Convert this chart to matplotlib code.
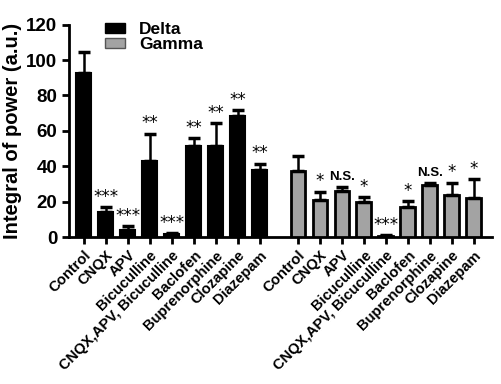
import matplotlib
matplotlib.use("Agg")
import matplotlib.pyplot as plt
import numpy as np
from matplotlib.patches import Patch

plt.rcParams['font.family'] = ['Liberation Sans', 'DejaVu Sans']
plt.rcParams['font.weight'] = 'bold'

categories = ["Control", "CNQX", "APV", "Bicuculline", "CNQX,APV, Bicuculline",
              "Baclofen", "Buprenorphine", "Clozapine", "Diazepam"]
delta_mean = [92.5, 14.3, 3.8, 43.0, 1.5, 51.3, 51.7, 68.3, 38.1]
delta_err = [12.2, 2.7, 2.2, 15.5, 0.5, 4.4, 12.5, 3.4, 3.4]
delta_sig = ["", "***", "***", "**", "***", "**", "**", "**", "**"]
gamma_mean = [37.5, 21.1, 26.0, 19.8, 0.6, 17.0, 29.2, 23.8, 21.9]
gamma_err = [8.2, 4.5, 2.3, 2.8, 0.3, 3.2, 1.6, 7.0, 10.9]
gamma_sig = ["", "*", "N.S.", "*", "***", "*", "N.S.", "*", "*"]

fig = plt.figure(figsize=(5.01, 3.84), dpi=100)
ax = fig.add_axes([69/501, 1 - 237/384, (492 - 69)/501, (237 - 24.7)/384])

xd = np.arange(9)
xg = np.arange(9) + 9.73
w = 0.68
ax.bar(xd, delta_mean, width=w, color='black', edgecolor='black', linewidth=1.5,
       yerr=[np.zeros(9), delta_err], error_kw=dict(ecolor='black', elinewidth=1.8, capsize=4, capthick=2.5), zorder=3)
ax.bar(xg, gamma_mean, width=w, color='#a3a3a3', edgecolor='black', linewidth=2,
       yerr=[np.zeros(9), gamma_err], error_kw=dict(ecolor='black', elinewidth=1.8, capsize=4, capthick=2.5), zorder=3)

for x, m, e, s in list(zip(xd, delta_mean, delta_err, delta_sig)) + list(zip(xg, gamma_mean, gamma_err, gamma_sig)):
    if not s:
        continue
    if s == "N.S.":
        ax.text(x, m + e + 2.0, s, ha='center', va='bottom', fontsize=9.5, fontweight='bold')
    else:
        ax.text(x, m + e + 0.8, s, ha='center', va='bottom', fontsize=12, fontweight='normal',
                family='DejaVu Sans')

ax.set_xlim(-0.68, 18.55)
ax.set_ylim(0, 120)
ax.set_yticks([0, 20, 40, 60, 80, 100, 120])
ax.tick_params(axis='y', labelsize=13.5, width=2, length=5)
ax.set_xticks(list(xd) + list(xg))
ax.set_xticklabels(categories + categories, rotation=45, ha='right', rotation_mode='anchor',
                   fontsize=10.6, fontweight='bold')
ax.tick_params(axis='x', width=2, length=5, pad=3)
for lab in ax.get_yticklabels():
    lab.set_fontweight('bold')
for sp in ['top', 'right']:
    ax.spines[sp].set_visible(False)
for sp in ['left', 'bottom']:
    ax.spines[sp].set_linewidth(2)
ax.set_ylabel("Integral of power (a.u.)", fontsize=14.5, fontweight='bold', labelpad=3)

handles = [Patch(facecolor='black', edgecolor='black', label='Delta'),
           Patch(facecolor='#a3a3a3', edgecolor='#555555', label='Gamma')]
leg = ax.legend(handles=handles, loc='upper left', bbox_to_anchor=(0.085, 1.012), frameon=False,
                prop={'weight': 'bold', 'size': 12.5}, handlelength=1.15, handleheight=0.45,
                handletextpad=0.8, labelspacing=0.0, borderpad=0, borderaxespad=0)

fig.savefig("out.png", dpi=100)
